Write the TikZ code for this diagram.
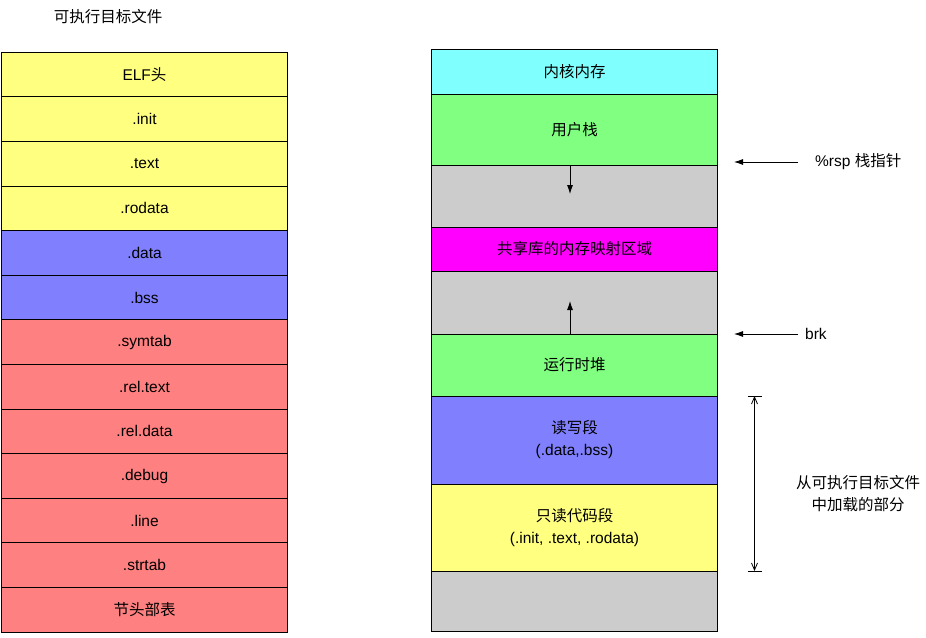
\documentclass[tikz,border=0pt]{standalone}
\usepackage{fontspec}
\setmainfont{Liberation Sans}
\newfontfamily\cjk{Noto Sans CJK SC}
\usepackage[dvipsnames]{xcolor}
\usetikzlibrary{arrows.meta}
\usetikzlibrary{positioning}
\definecolor{segyellow}{HTML}{FFFF80}
\definecolor{segblue}{HTML}{8080FF}
\definecolor{segred}{HTML}{FF8080}
\definecolor{segcyan}{HTML}{80FFFF}
\definecolor{seggreen}{HTML}{80FF80}
\definecolor{segmagenta}{HTML}{FF00FF}
\definecolor{seggray}{HTML}{CCCCCC}
\tikzset{seg/.style = {draw, line width=1pt, minimum width=285.6pt, inner sep=0, outer sep=0, align=center, font=\fontsize{15.5}{22}\selectfont}}
\tikzset{lbl/.style = {inner sep=0, align=center, font=\fontsize{15.5}{22}\selectfont}}
\tikzset{ptr/.style = {-{Latex[length=9pt,width=6pt]}, line width=0.8pt}}
\tikzset{dim/.style = {{Straight Barb[length=7pt,width=6pt]}-{Straight Barb[length=7pt,width=6pt]}, line width=0.8pt}}

\begin{document}
\begin{tikzpicture}[x=1pt, y=-1pt]
        \fill [white] (0,0) rectangle (926,637);
        \useasboundingbox (0,0) rectangle (926,637);
        % executable object file
        \node [lbl] (title) at (108,17) {\cjk 可执行目标文件};
        \foreach \name/\col [count=\i] in {ELF{\cjk 头}/segyellow, .init/segyellow, .text/segyellow, .rodata/segyellow, .data/segblue, .bss/segblue, .symtab/segred, .rel.text/segred, .rel.data/segred, .debug/segred, .line/segred, .strtab/segred, \cjk 节头部表/segred}
            \node [seg, fill=\col, minimum height=44.6pt] (l\i) at (144.5,{52.3+44.6*(\i-0.5)}) {\name};
        % process memory image
        \node [seg, fill=segcyan, minimum height=45pt] (r1) at (574.5,71.5) {\cjk 内核内存};
        \node [seg, fill=seggreen, minimum height=71pt, below=0pt of r1] (r2) {\cjk 用户栈};
        \node [seg, fill=seggray, minimum height=62pt, below=0pt of r2] (r3) {};
        \node [seg, fill=segmagenta, minimum height=44pt, below=0pt of r3] (r4) {\cjk 共享库的内存映射区域};
        \node [seg, fill=seggray, minimum height=63pt, below=0pt of r4] (r5) {};
        \node [seg, fill=seggreen, minimum height=62pt, below=0pt of r5] (r6) {\cjk 运行时堆};
        \node [seg, fill=segblue, minimum height=88pt, below=0pt of r6] (r7) {{\cjk 读写段}\\(.data,.bss)};
        \node [seg, fill=segyellow, minimum height=87pt, below=0pt of r7] (r8) {{\cjk 只读代码段}\\(.init, .text, .rodata)};
        \node [seg, fill=seggray, minimum height=60pt, below=0pt of r8] (r9) {};
        % growth of stack and heap
        \coordinate (growdown) at (570,194);
        \coordinate (growup) at (570,301);
        \draw [ptr] (growdown |- r3.north) -- (growdown);
        \draw [ptr] (growup |- r5.south) -- (growup);
        % pointers
        \node [lbl, anchor=west] (rsp) at (815,162) {\%rsp {\cjk 栈指针}};
        \node [lbl, anchor=west] (brk) at (805,334) {brk};
        \coordinate (rsptip) at (734,162);
        \coordinate (brktip) at (734,334);
        \draw [ptr] ([xshift=-17pt]rsp.west) -- (rsptip);
        \draw [ptr] ([xshift=-7pt]brk.west) -- (brktip);
        % loaded part
        \coordinate (ld) at (754.5,0);
        \draw [dim] (r7.north -| ld) -- (r8.south -| ld);
        \draw [line width=0.8pt] (r7.north -| ld) ++(-7,0) -- ++(14,0);
        \draw [line width=0.8pt] (r8.south -| ld) ++(-7,0) -- ++(14,0);
        \node [lbl] (load) at (858,494) {\cjk 从可执行目标文件\\\cjk 中加载的部分};
    \end{tikzpicture}
\end{document}
